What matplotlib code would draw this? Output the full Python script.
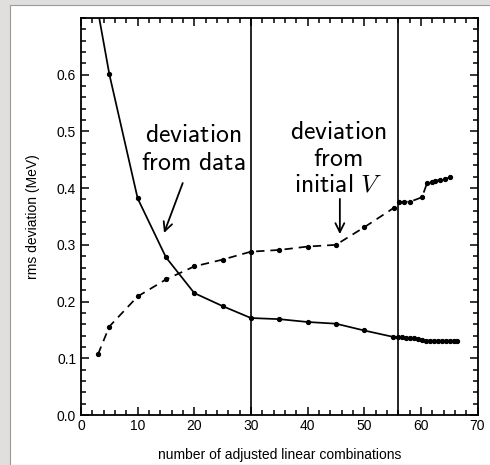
import matplotlib.pyplot as plt
from matplotlib.patches import Rectangle
from matplotlib.ticker import MultipleLocator

plt.rcParams['font.family'] = ['Liberation Sans', 'DejaVu Sans']
plt.rcParams['mathtext.fontset'] = 'cm'

# deviation from data (solid)
n_data = [3, 5, 10, 15, 20, 25, 30, 35, 40, 45, 50, 55,
          56.0, 56.7, 57.4, 58.1, 58.8, 59.5, 60.2, 60.9, 61.6,
          62.3, 63.0, 63.7, 64.4, 65.1, 65.8, 66.4]
rms_data = [0.712, 0.601, 0.382, 0.278, 0.215, 0.192, 0.171, 0.169, 0.164, 0.161, 0.149, 0.138,
            0.137, 0.137, 0.136, 0.136, 0.135, 0.134, 0.132, 0.131, 0.131,
            0.131, 0.131, 0.131, 0.131, 0.131, 0.131, 0.131]

# deviation from initial V (dashed)
n_init = [3, 5, 10, 15, 20, 25, 30, 35, 40, 45, 50, 55.2,
          56.2, 57.0, 58.1, 60.2, 61.1, 61.9, 62.5, 63.3, 64.2, 65.2]
rms_init = [0.107, 0.156, 0.209, 0.239, 0.262, 0.274, 0.288, 0.291, 0.297, 0.300, 0.331, 0.365,
            0.375, 0.376, 0.376, 0.384, 0.409, 0.411, 0.412, 0.415, 0.416, 0.419]

vlines = [30, 56]

fig = plt.figure(figsize=(4.9, 4.65), dpi=100)
fig.patch.set_facecolor('#e1dfdd')
fig.patches.append(Rectangle((9.5 / 490, 0), 1.0, 1 - 4.7 / 465, transform=fig.transFigure,
                             facecolor='white', edgecolor='#9a9a9a', linewidth=0.8, zorder=-1))

ax = fig.add_axes([81 / 490, 1 - 415 / 465, 396.5 / 490, 397 / 465])
ax.set_facecolor('white')

ax.plot(n_data, rms_data, color='black', lw=1.25, marker='o', ms=2.8)
ax.plot(n_init, rms_init, color='black', lw=1.25, marker='o', ms=2.8,
        linestyle=(0, (4.8, 3.4)))
for v in vlines:
    ax.axvline(v, color='black', lw=1.2)

ax.set_xlim(0, 70)
ax.set_ylim(0, 0.7)
ax.set_xticks(range(0, 71, 10))
ax.set_yticks([0.0, 0.1, 0.2, 0.3, 0.4, 0.5, 0.6])
ax.set_yticklabels(['0.0', '0.1', '0.2', '0.3', '0.4', '0.5', '0.6'])
ax.xaxis.set_minor_locator(MultipleLocator(2))
ax.yaxis.set_minor_locator(MultipleLocator(0.02))
ax.tick_params(which='both', direction='in', top=True, right=True, labelsize=10,
               width=1.1, colors='black')
ax.tick_params(which='major', length=6)
ax.tick_params(which='minor', length=3.3)
ax.tick_params(axis='x', pad=3)
for s in ax.spines.values():
    s.set_linewidth(1.3)

ax.set_xlabel('number of adjusted linear combinations', fontsize=10, labelpad=10.5)
ax.set_ylabel('rms deviation (MeV)', fontsize=10, labelpad=12)

ax.text(19.8, 0.469, '$\\mathsf{deviation}$\n$\\mathsf{from\\ data}$', fontsize=18.5,
        ha='center', va='center', linespacing=1.22)
ax.text(45.4, 0.452, '$\\mathsf{deviation}$\n$\\mathsf{from}$\n$\\mathsf{initial}\\ V$', fontsize=18.5,
        ha='center', va='center', linespacing=1.12)

ax.annotate('', xy=(14.66, 0.321), xytext=(17.96, 0.409),
            arrowprops=dict(arrowstyle='->', color='black', lw=1.3, mutation_scale=16,
                            shrinkA=0, shrinkB=0))
ax.annotate('', xy=(45.7, 0.319), xytext=(45.7, 0.381),
            arrowprops=dict(arrowstyle='->', color='black', lw=1.3, mutation_scale=16,
                            shrinkA=0, shrinkB=0))

fig.savefig('out.png', dpi=100, facecolor=fig.get_facecolor())
